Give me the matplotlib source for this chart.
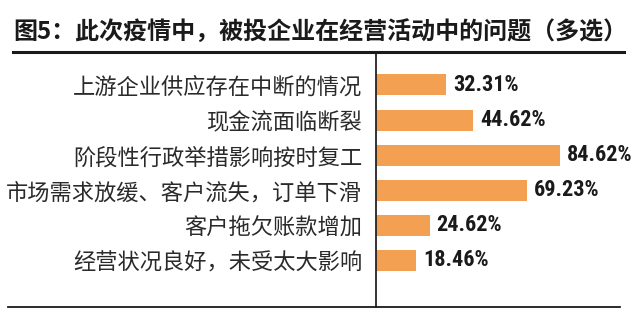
import matplotlib
matplotlib.use("Agg")
import matplotlib.pyplot as plt
from matplotlib.lines import Line2D
from matplotlib import font_manager

plt.rcParams['font.family'] = ['Noto Sans CJK SC', 'DejaVu Sans']

title = "图5：此次疫情中，被投企业在经营活动中的问题（多选）"
categories = [
    "上游企业供应存在中断的情况",
    "现金流面临断裂",
    "阶段性行政举措影响按时复工",
    "市场需求放缓、客户流失，订单下滑",
    "客户拖欠账款增加",
    "经营状况良好，未受太大影响",
]
values = [32.31, 44.62, 84.62, 69.23, 24.62, 18.46]
value_labels = ["32.31%", "44.62%", "84.62%", "69.23%", "24.62%", "18.46%"]

# pick a condensed font for the value labels if available
names = {f.name for f in font_manager.fontManager.ttflist}
cands = ["Liberation Sans Narrow", "Roboto Condensed", "DejaVu Sans Condensed",
         "Open Sans Condensed", "Arial Narrow", "Noto Sans Condensed"]
narrow = [c for c in cands if c in names]
if narrow:
    val_family = [narrow[0], "DejaVu Sans"]
    val_size = 16
    val_stretch = "normal"
else:
    val_family = ["DejaVu Sans"]
    val_size = 13
    val_stretch = "condensed"

W, H = 640, 327
fig = plt.figure(figsize=(W / 100, H / 100), dpi=100)
fig.patch.set_facecolor("white")

ax_left, ax_right = 376 / W, 630 / W
ax_top, ax_bot = 1 - 52 / H, 1 - 307 / H
ax = fig.add_axes([ax_left, ax_bot, ax_right - ax_left, ax_top - ax_bot])

ypos = list(range(len(categories)))
ax.barh(ypos, values, height=0.6, color="#F4A052", edgecolor="none")
ax.set_xlim(0, (630 - 376) / 2.174)
ax.set_ylim(6.33, -0.94)

ax.set_yticks(ypos)
ax.set_yticklabels(categories, fontsize=16, color="#2a2a2a")
ax.tick_params(axis="y", length=0, pad=10)
ax.set_xticks([])
for s in ["top", "right", "bottom"]:
    ax.spines[s].set_visible(False)
ax.spines["left"].set_linewidth(1.3)
ax.spines["left"].set_color("#222222")

for y, v, lab in zip(ypos, values, value_labels):
    ax.annotate(lab, (v, y), xytext=(5, 0), textcoords="offset points",
                va="center", ha="left", fontsize=val_size, fontweight="bold",
                family=val_family, fontstretch=val_stretch, color="#1a1a1a")

fig.text(13 / W, 1 - 32 / H, title, fontsize=17.3, fontweight="bold",
         va="center", ha="left", color="#1a1a1a")

fig.add_artist(Line2D([13 / W, 624 / W], [1 - 52 / H, 1 - 52 / H],
                      transform=fig.transFigure, color="#1a1a1a", lw=2.2))
fig.add_artist(Line2D([8 / W, 620 / W], [1 - 307 / H, 1 - 307 / H],
                      transform=fig.transFigure, color="#1a1a1a", lw=1.3))

fig.savefig("out.png", dpi=100, facecolor="white")
